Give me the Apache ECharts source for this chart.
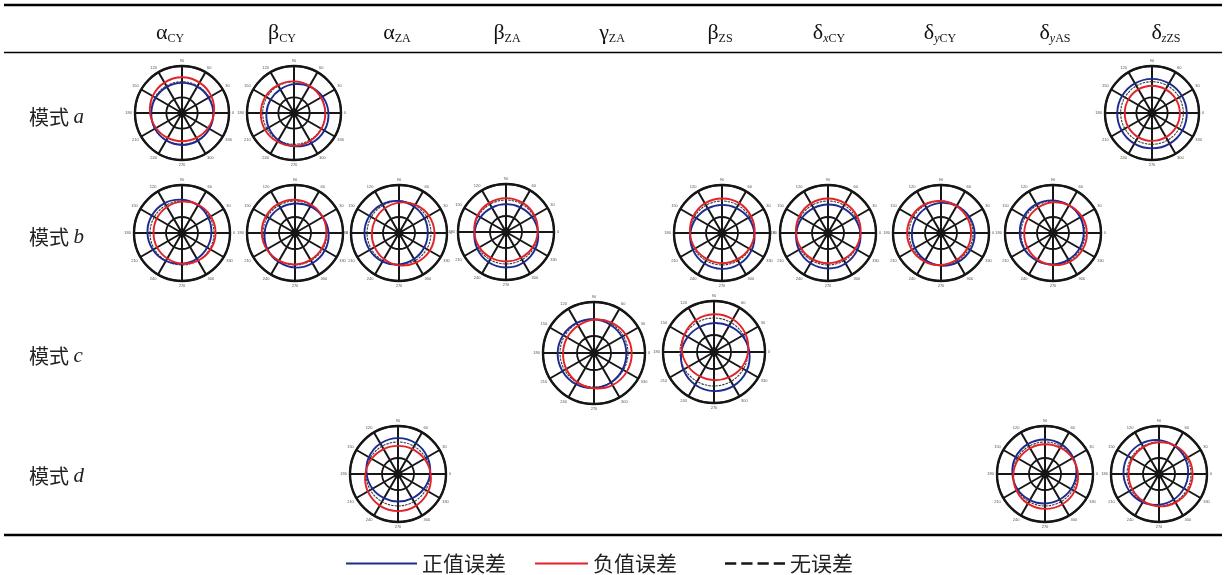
<!DOCTYPE html>
<html>
<head>
<meta charset="utf-8">
<script src="https://cdn.jsdelivr.net/npm/echarts@6.0.0/dist/echarts.min.js"></script>
<style>
  html, body { margin: 0; background: #fff; }
  #chart { width: 1224px; height: 575px; }
</style>
</head>
<body>
<div id="chart"></div>
<script>
// angle (deg) of each reading, radial ticks of every small polar plot
const angles = [0, 30, 60, 90, 120, 150, 180, 210, 240, 270, 300, 330]
const radiusTicks = [0, 50, 100, 150]
const noError = [100, 100, 100, 100, 100, 100, 100, 100, 100, 100, 100, 100]

// column heads and row heads
const colHeads = [
  "{g|α}{s|CY}", "{g|β}{s|CY}", "{g|α}{s|ZA}", "{g|β}{s|ZA}", "{g|γ}{s|ZA}",
  "{g|β}{s|ZS}", "{g|δ}{i|x}{s|CY}", "{g|δ}{i|y}{s|CY}", "{g|δ}{i|y}{s|AS}", "{g|δ}{i|z}{s|ZS}",
]
const modes = ["a", "b", "c", "d"]

// radius of the error curves, read at each angle (positive / negative error)
// mode a
const aAlphaCYPos = [100, 98, 97, 96, 96, 97, 98, 100, 101, 102, 102, 101]
const aAlphaCYNeg = [102, 108, 112, 114, 112, 108, 102, 96, 92, 90, 92, 96]
const aBetaCYPos = [110, 105, 98, 92, 87, 86, 88, 93, 100, 106, 111, 112]
const aBetaCYNeg = [100, 99, 100, 101, 103, 105, 106, 107, 106, 105, 103, 101]
const aDeltaZZSPos = [111, 110, 109, 109, 109, 110, 111, 112, 113, 113, 113, 112]
const aDeltaZZSNeg = [89, 88, 87, 87, 87, 87, 87, 88, 89, 89, 89, 89]
// mode b
const bAlphaCYPos = [92, 95, 100, 104, 108, 109, 108, 105, 101, 96, 93, 91]
const bAlphaCYNeg = [105, 104, 102, 98, 94, 91, 89, 90, 92, 96, 100, 103]
const bBetaCYPos = [105, 100, 96, 92, 91, 92, 95, 100, 104, 108, 109, 108]
const bBetaCYNeg = [98, 100, 102, 104, 105, 105, 104, 102, 100, 98, 97, 97]
const bAlphaZAPos = [90, 92, 95, 100, 104, 107, 108, 106, 103, 98, 94, 91]
const bAlphaZANeg = [111, 108, 102, 95, 89, 85, 85, 88, 94, 101, 107, 111]
const bBetaZAPos = [100, 94, 89, 87, 88, 92, 98, 104, 109, 111, 110, 106]
const bBetaZANeg = [99, 103, 105, 106, 105, 103, 99, 96, 93, 92, 93, 96]
const bBetaZSPos = [101, 95, 90, 88, 89, 93, 99, 105, 110, 112, 111, 107]
const bBetaZSNeg = [102, 105, 108, 108, 107, 104, 100, 97, 94, 94, 95, 98]
const bDeltaXCYPos = [101, 95, 91, 89, 90, 94, 99, 105, 109, 111, 110, 106]
const bDeltaXCYNeg = [102, 105, 107, 108, 107, 104, 100, 97, 95, 94, 95, 98]
const bDeltaYCYPos = [105, 102, 98, 94, 91, 90, 91, 94, 98, 102, 105, 106]
const bDeltaYCYNeg = [94, 95, 97, 100, 103, 105, 106, 105, 103, 100, 97, 95]
const bDeltaYASPos = [96, 98, 100, 102, 104, 105, 104, 103, 100, 98, 96, 96]
const bDeltaYASNeg = [106, 104, 100, 96, 92, 90, 90, 92, 96, 100, 104, 106]
// mode c
const cGammaZAPos = [95, 95, 96, 99, 102, 105, 107, 107, 106, 103, 100, 97]
const cGammaZANeg = [111, 108, 103, 98, 93, 91, 91, 94, 99, 104, 109, 111]
const cBetaZSPos = [104, 96, 89, 85, 85, 89, 96, 104, 111, 115, 115, 111]
const cBetaZSNeg = [100, 107, 111, 111, 108, 101, 94, 87, 83, 83, 86, 93]
// mode d
const dAlphaZAPos = [100, 106, 111, 112, 110, 105, 98, 92, 87, 86, 88, 93]
const dAlphaZANeg = [102, 95, 90, 88, 90, 95, 102, 109, 114, 116, 114, 109]
const dDeltaYASPos = [98, 102, 106, 108, 108, 106, 102, 98, 94, 92, 92, 94]
const dDeltaYASNeg = [103, 99, 95, 93, 93, 95, 99, 103, 107, 109, 109, 107]
const dDeltaZZSPos = [91, 95, 100, 106, 110, 112, 111, 107, 102, 96, 92, 90]
const dDeltaZZSNeg = [105, 104, 102, 99, 97, 96, 95, 96, 98, 101, 103, 105]

const plots = [
  { pos: aAlphaCYPos, neg: aAlphaCYNeg },
  { pos: aBetaCYPos, neg: aBetaCYNeg },
  { pos: aDeltaZZSPos, neg: aDeltaZZSNeg },
  { pos: bAlphaCYPos, neg: bAlphaCYNeg },
  { pos: bBetaCYPos, neg: bBetaCYNeg },
  { pos: bAlphaZAPos, neg: bAlphaZANeg },
  { pos: bBetaZAPos, neg: bBetaZANeg },
  { pos: bBetaZSPos, neg: bBetaZSNeg },
  { pos: bDeltaXCYPos, neg: bDeltaXCYNeg },
  { pos: bDeltaYCYPos, neg: bDeltaYCYNeg },
  { pos: bDeltaYASPos, neg: bDeltaYASNeg },
  { pos: cGammaZAPos, neg: cGammaZANeg },
  { pos: cBetaZSPos, neg: cBetaZSNeg },
  { pos: dAlphaZAPos, neg: dAlphaZANeg },
  { pos: dDeltaYASPos, neg: dDeltaYASNeg },
  { pos: dDeltaZZSPos, neg: dDeltaZZSNeg },
]

// layout: centre x, centre y, outer radius (px) of each plot
const plotBoxes = [
  [182, 113, 47], [294, 113, 47], [1152, 113, 47],
  [182, 233, 48], [295, 233, 48], [399, 233, 48], [506, 232, 48],
  [722, 233, 48], [828, 233, 48], [941, 233, 48], [1053, 233, 48],
  [594, 353, 51], [714, 352, 51],
  [398, 474, 48], [1045, 474, 48], [1159, 474, 48],
]
const colX = [170, 282, 397, 507, 612, 720, 829, 940, 1055, 1166]
const rowY = [117, 237, 356, 476]

const BLUE = "#1d2a8e"
const RED = "#e2232a"
const INK = "#161616"

// closed smooth loop through the readings, placed by the polar axes
function loopSeries(name, i, vals, lineStyle) {
  return {
    name,
    type: "custom",
    coordinateSystem: "polar",
    polarIndex: i,
    silent: true,
    itemStyle: { color: lineStyle.stroke },
    data: [vals],
    renderItem(params, api) {
      const points = angles.map((a, k) => api.coord([api.value(k), a]))
      return {
        type: "polygon",
        shape: { points, smooth: 0.35 },
        style: Object.assign({ fill: null }, lineStyle),
      }
    },
  }
}

const chart = echarts.init(document.getElementById("chart"), null, { renderer: "canvas" })

const polar = []
const angleAxis = []
const radiusAxis = []
const series = []

plots.forEach((p, i) => {
  const [cx, cy, r] = plotBoxes[i]
  polar.push({ center: [cx, cy], radius: r })
  angleAxis.push({
    polarIndex: i,
    type: "value",
    min: 0,
    max: 360,
    interval: 30,
    startAngle: 0,
    clockwise: false,
    axisLine: { lineStyle: { color: INK, width: 2.4 } },
    axisTick: { show: false },
    axisLabel: { fontSize: 4, margin: 3, color: "#555", fontFamily: "Liberation Sans" },
    splitLine: { show: true, lineStyle: { color: INK, width: 2 } },
  })
  radiusAxis.push({
    polarIndex: i,
    min: radiusTicks[0],
    max: radiusTicks[radiusTicks.length - 1],
    interval: radiusTicks[1] - radiusTicks[0],
    axisLine: { show: false },
    axisTick: { show: false },
    axisLabel: { show: false },
    splitLine: {
      show: true,
      lineStyle: { color: [INK, INK, "rgba(0,0,0,0)", INK], width: 1.8 },
    },
  })
  series.push(loopSeries("无误差", i, noError, { stroke: "#3a3a3a", lineWidth: 1.1, lineDash: [2.5, 1] }))
  series.push(loopSeries("正值误差", i, p.pos, { stroke: BLUE, lineWidth: 1.9 }))
  series.push(loopSeries("负值误差", i, p.neg, { stroke: RED, lineWidth: 1.9 }))
  series.push({
    name: "centre",
    type: "scatter",
    coordinateSystem: "polar",
    polarIndex: i,
    symbolSize: 9,
    silent: true,
    itemStyle: { color: INK },
    data: [[0, 0]],
    z: 5,
  })
})

const headRich = {
  g: { fontFamily: "Liberation Serif", fontSize: 22, fill: "#111", lineHeight: 24 },
  s: { fontFamily: "Liberation Serif", fontSize: 12, fill: "#111", lineHeight: 14, verticalAlign: "bottom" },
  i: { fontFamily: "Liberation Serif", fontStyle: "italic", fontSize: 12, fill: "#111", lineHeight: 14, verticalAlign: "bottom" },
}
const rowRich = {
  c: { fontFamily: "Noto Sans CJK SC", fontSize: 20, fill: "#222" },
  i: { fontFamily: "Liberation Serif", fontStyle: "italic", fontSize: 21, fill: "#222" },
}

const graphic = [
  { type: "line", shape: { x1: 4, y1: 5, x2: 1222, y2: 5 }, style: { stroke: "#000", lineWidth: 2.5 } },
  { type: "line", shape: { x1: 4, y1: 52.5, x2: 1222, y2: 52.5 }, style: { stroke: "#000", lineWidth: 1.5 } },
  { type: "line", shape: { x1: 4, y1: 535, x2: 1222, y2: 535 }, style: { stroke: "#000", lineWidth: 2.6 } },
]
colHeads.forEach((t, k) => {
  graphic.push({
    type: "text",
    x: colX[k],
    y: 33,
    style: { text: t, rich: headRich, align: "center", verticalAlign: "middle" },
  })
})
modes.forEach((m, k) => {
  graphic.push({
    type: "text",
    x: 29,
    y: rowY[k],
    style: { text: "{c|模式 }{i|" + m + "}", rich: rowRich, align: "left", verticalAlign: "middle" },
  })
})

const legendText = { fontFamily: "Noto Sans CJK SC", fontSize: 21, color: "#222" }
chart.setOption({
  animation: false,
  backgroundColor: "#fff",
  legend: [
    {
      data: [{ name: "正值误差", icon: "rect" }],
      left: 341, top: 548, itemWidth: 71, itemHeight: 2, itemGap: 0,
      selectedMode: false, textStyle: legendText,
    },
    {
      data: [{ name: "负值误差", icon: "rect" }],
      left: 530, top: 548, itemWidth: 53, itemHeight: 2, itemGap: 0,
      selectedMode: false, textStyle: legendText,
    },
    {
      data: [{ name: "无误差", icon: "path://M0,0h9v2h-9zM13,0h9v2h-9zM26,0h9v2h-9zM39,0h9v2h-9z" }],
      left: 720, top: 548, itemWidth: 60, itemHeight: 3, itemGap: 0,
      selectedMode: false, textStyle: legendText,
      itemStyle: { color: INK },
    },
  ],
  polar,
  angleAxis,
  radiusAxis,
  series,
  graphic,
})
</script>
</body>
</html>
